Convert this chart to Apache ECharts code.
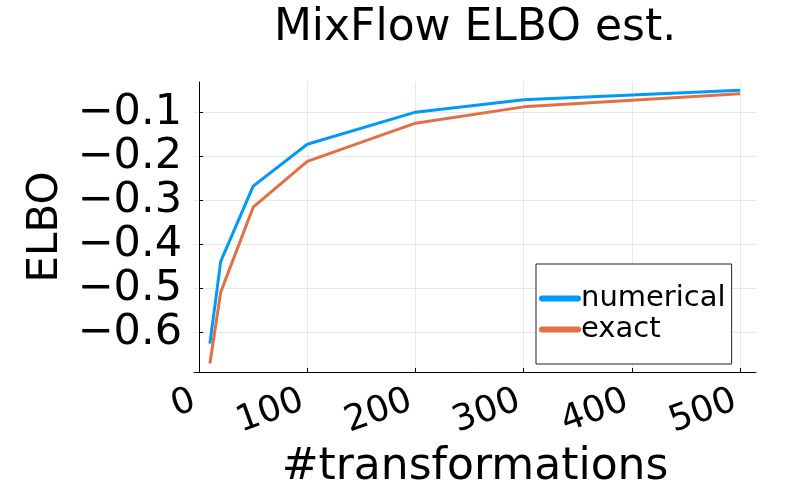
<!DOCTYPE html>
<html>
<head>
<meta charset="utf-8">
<script src="https://cdn.jsdelivr.net/npm/echarts@6/dist/echarts.min.js"></script>
<style>
  html, body { margin: 0; padding: 0; background: #fff; }
  #chart { width: 800px; height: 500px; }
</style>
</head>
<body>
<div id="chart"></div>
<script>
// number of transformations
var steps = [10, 20, 50, 100, 200, 300, 500];
// ELBO estimates
var numerical = [-0.625, -0.438, -0.267, -0.172, -0.099, -0.071, -0.049];
var exact = [-0.670, -0.508, -0.315, -0.211, -0.124, -0.087, -0.057];
// tick labels
var xTicks = [0, 100, 200, 300, 400, 500];
var yTicks = [-0.6, -0.5, -0.4, -0.3, -0.2, -0.1];

var font = 'DejaVu Sans';
var chart = echarts.init(document.getElementById('chart'));

function pairs(xs, ys) {
  return xs.map(function (x, i) { return [x, ys[i]]; });
}

// capsule shaped legend marker (thick line with round ends)
var capsule = 'path://M3,0 L39,0 A3,3 0 0 1 39,6 L3,6 A3,3 0 0 1 3,0 Z';

chart.setOption({
  animation: false,
  title: {
    text: 'MixFlow ELBO est.',
    left: 470,
    textAlign: 'center',
    top: 2,
    textStyle: { fontFamily: font, fontSize: 44, fontWeight: 'normal', color: '#000' }
  },
  grid: { left: 194, right: 44, top: 82, bottom: 128 },
  legend: {
    orient: 'vertical',
    left: 536,
    top: 264,
    padding: [20, 6, 20, 3],
    itemGap: 2,
    itemWidth: 42,
    itemHeight: 6,
    icon: capsule,
    borderColor: '#222',
    borderWidth: 1,
    backgroundColor: '#fff',
    textStyle: { fontFamily: font, fontSize: 29, color: '#000', padding: [0, 0, 0, -5] },
    data: ['numerical', 'exact']
  },
  xAxis: {
    type: 'value',
    min: -4.7,
    max: 514.7,
    name: '#transformations',
    nameLocation: 'middle',
    nameGap: 74,
    nameTextStyle: { fontFamily: font, fontSize: 44, color: '#000' },
    axisLine: { lineStyle: { color: '#000', width: 1 } },
    axisTick: { inside: true, length: 4, customValues: xTicks, lineStyle: { color: '#000' } },
    axisLabel: {
      customValues: xTicks,
      rotate: 20,
      margin: 26,
      padding: [0, 5, 0, 0],
      fontFamily: font,
      fontSize: 36,
      color: '#000'
    },
    splitLine: { show: true, lineStyle: { color: 'rgba(0,0,0,0.09)', width: 1 } }
  },
  yAxis: {
    type: 'value',
    min: -0.6895,
    max: -0.0305,
    name: 'ELBO',
    nameLocation: 'middle',
    nameGap: 123,
    nameTextStyle: { fontFamily: font, fontSize: 42, color: '#000' },
    axisLine: { show: true, lineStyle: { color: '#000', width: 1 } },
    axisTick: { show: true, inside: true, length: 4, customValues: yTicks, lineStyle: { color: '#000' } },
    axisLabel: {
      customValues: yTicks,
      margin: 12,
      fontFamily: font,
      fontSize: 43,
      color: '#000',
      formatter: function (v) { return (v < 0 ? '\u2212' : '') + Math.abs(v).toFixed(1); }
    },
    splitLine: { show: true, lineStyle: { color: 'rgba(0,0,0,0.09)', width: 1 } }
  },
  series: [
    {
      name: 'numerical',
      type: 'line',
      data: pairs(steps, numerical),
      symbol: 'none',
      color: '#009AFA',
      lineStyle: { width: 3, color: '#009AFA' }
    },
    {
      name: 'exact',
      type: 'line',
      data: pairs(steps, exact),
      symbol: 'none',
      color: '#E36F47',
      lineStyle: { width: 3, color: '#E36F47' }
    }
  ]
});
</script>
</body>
</html>
